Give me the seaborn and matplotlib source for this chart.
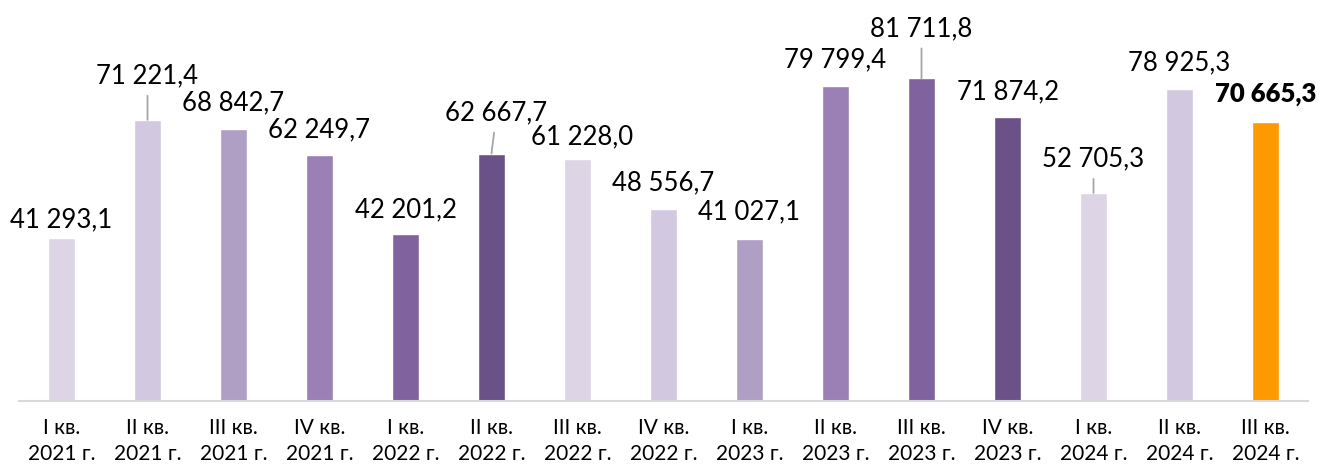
import matplotlib
matplotlib.use("Agg")
import matplotlib.pyplot as plt
import seaborn as sns
import pandas as pd

quarters = ["I кв.", "II кв.", "III кв.", "IV кв.",
            "I кв.", "II кв.", "III кв.", "IV кв.",
            "I кв.", "II кв.", "III кв.", "IV кв.",
            "I кв.", "II кв.", "III кв."]
years = ["2021 г."] * 4 + ["2022 г."] * 4 + ["2023 г."] * 4 + ["2024 г."] * 3
values = [41293.1, 71221.4, 68842.7, 62249.7,
          42201.2, 62667.7, 61228.0, 48556.7,
          41027.1, 79799.4, 81711.8, 71874.2,
          52705.3, 78925.3, 70665.3]
value_labels = ["41 293,1", "71 221,4", "68 842,7", "62 249,7",
                "42 201,2", "62 667,7", "61 228,0", "48 556,7",
                "41 027,1", "79 799,4", "81 711,8", "71 874,2",
                "52 705,3", "78 925,3", "70 665,3"]

categories = [f"{q}\n{y}" for q, y in zip(quarters, years)]
shades = ["#DDD5E6", "#D2C9E0", "#AF9FC5", "#9A80B4", "#7F629E", "#6A5289"]
colors = [shades[i % 6] for i in range(14)] + ["#FF9900"]

# label offsets (pixels) relative to bar top: (dx, dy), and whether a leader line is drawn
label_offsets = [(0, 18), (0, 44), (0, 26), (0, 25), (0, 25), (5, 41), (5, 23), (0, 27),
                 (-1, 27), (0, 26), (0, 50), (0, 26), (0, 34), (0, 27), (0, 28)]
leaders = [False, True, False, False, False, True, False, False,
           False, False, True, False, True, False, False]

sns.set_theme(style="white")
plt.rcParams["font.family"] = ["Lato", "DejaVu Sans"]

df = pd.DataFrame({"cat": categories, "val": values})

fig = plt.figure(figsize=(13.23, 4.66), dpi=100)
ax = fig.add_axes([19 / 1323, 65 / 466, (1308 - 19) / 1323, 401 / 466])
sns.barplot(data=df, x="cat", y="val", hue="cat", palette=colors, legend=False,
            width=0.314, saturation=1, ax=ax)

ax.set_xlim(-0.494, 14.494)
ax.set_ylim(0, 101600)
ax.set_xlabel("")
ax.set_ylabel("")
ax.set_yticks([])
for s in ["top", "right", "left"]:
    ax.spines[s].set_visible(False)
ax.spines["bottom"].set_color("#D9D9D9")
ax.spines["bottom"].set_linewidth(1.5)
ax.tick_params(axis="x", length=0, pad=12, labelsize=15, labelcolor="#000000")
for t in ax.get_xticklabels():
    t.set_linespacing(1.4)

for i, (v, lab) in enumerate(zip(values, value_labels)):
    dx, dy = label_offsets[i]
    bold = (i == len(values) - 1)
    kw = {}
    if leaders[i]:
        kw["arrowprops"] = dict(arrowstyle="-", color="#A6A6A6", lw=1.3,
                                shrinkA=3, shrinkB=0)
    ax.annotate(lab, xy=(i, v), xytext=(dx, dy), textcoords="offset pixels",
                ha="center", va="center", fontsize=18.5,
                fontweight="heavy" if bold else "normal", color="#000000",
                annotation_clip=False, **kw)

fig.savefig("out.png", dpi=100)
